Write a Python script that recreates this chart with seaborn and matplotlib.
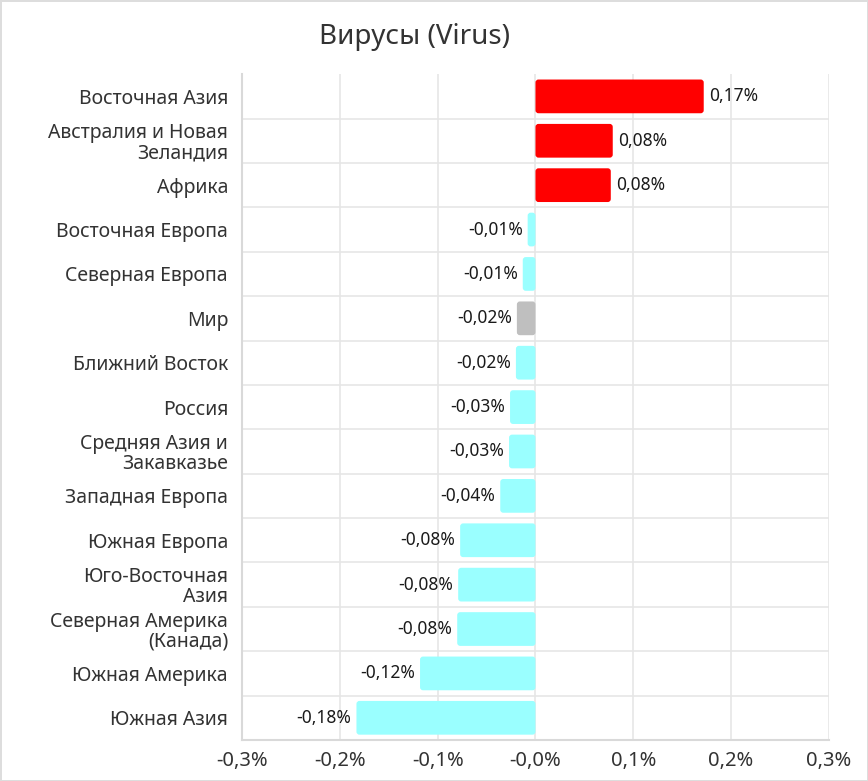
import numpy as np
import pandas as pd
import matplotlib
matplotlib.use("Agg")
import matplotlib.pyplot as plt
import seaborn as sns
from matplotlib.patches import FancyBboxPatch

# ==============================================================================
# DATOS
# ==============================================================================
regiones = [
    "Восточная Азия",
    "Австралия и Новая\nЗеландия",
    "Африка",
    "Восточная Европа",
    "Северная Европа",
    "Мир",
    "Ближний Восток",
    "Россия",
    "Средняя Азия и\nЗакавказье",
    "Западная Европа",
    "Южная Европа",
    "Юго-Восточная\nАзия",
    "Северная Америка\n(Канада)",
    "Южная Америка",
    "Южная Азия",
]
cambio = [0.172, 0.079, 0.077, -0.008, -0.013, -0.019, -0.020, -0.026,
          -0.027, -0.036, -0.077, -0.079, -0.080, -0.118, -0.183]
ticks_x = [-0.3, -0.2, -0.1, 0.0, 0.1, 0.2, 0.3]
etiquetas_x = ["-0,3%", "-0,2%", "-0,1%", "-0,0%", "0,1%", "0,2%", "0,3%"]
titulo = "Вирусы (Virus)"

ROJO = "#FF0000"
CIAN = "#9AFFFF"
GRIS = "#BFBFBF"


def color_de(region, valor):
    if region == "Мир":
        return GRIS
    return ROJO if valor > 0 else CIAN


def fmt_pct(v):
    return f"{v:.2f}".replace(".", ",") + "%"


df = pd.DataFrame({"region": regiones, "cambio": cambio})
paleta = {r: color_de(r, v) for r, v in zip(regiones, cambio)}

# ==============================================================================
# GRÁFICO
# ==============================================================================
sns.set_style("white")
plt.rcParams["font.family"] = ["Noto Sans", "DejaVu Sans"]

fig = plt.figure(figsize=(8.68, 7.81), dpi=100)
ax = fig.add_axes([0.2788, 0.0525, 0.6762, 0.8525])

sns.barplot(data=df, x="cambio", y="region", hue="region", palette=paleta,
            order=regiones, legend=False, width=0.76, ax=ax, saturation=1)

ax.set_xlim(-0.3, 0.3)
ax.set_ylim(len(regiones) - 0.5, -0.5)

# barras con esquinas redondeadas
px_x = 0.6 / (0.6762 * 868)
px_y = len(regiones) / (0.8525 * 781)
aspecto = px_y / px_x
for p in list(ax.patches):
    x0, y0 = p.get_x(), p.get_y()
    w, h = p.get_width(), p.get_height()
    if w < 0:
        x0, w = x0 + w, -w
    r = min(3 * px_x, w / 2)
    nuevo = FancyBboxPatch((x0, y0), w, h,
                           boxstyle=f"round,pad=0,rounding_size={r}",
                           mutation_aspect=aspecto,
                           facecolor=p.get_facecolor(), edgecolor="none",
                           zorder=3)
    p.remove()
    ax.add_patch(nuevo)

# etiquetas de valores
for i, v in enumerate(cambio):
    if v >= 0:
        ax.text(v + 5 * px_x, i, fmt_pct(v), ha="left", va="center",
                fontsize=12.5, color="#1a1a1a")
    else:
        ax.text(v - 5 * px_x, i, fmt_pct(v), ha="right", va="center",
                fontsize=12.5, color="#1a1a1a")

# rejilla
ax.set_xticks(ticks_x)
ax.set_xticklabels(etiquetas_x)
for yv in np.arange(0.5, len(regiones) - 1, 1.0):
    ax.axhline(yv, color="#E6E6E6", linewidth=1.2, zorder=0)
ax.grid(axis="x", color="#E6E6E6", linewidth=1.2, zorder=0)
ax.set_axisbelow(True)

for lado in ["top", "right"]:
    ax.spines[lado].set_visible(False)
for lado in ["left", "bottom"]:
    ax.spines[lado].set_color("#D9D9D9")
    ax.spines[lado].set_linewidth(1.5)

ax.tick_params(axis="y", length=7, width=1.2, color="#D9D9D9",
               labelsize=14, labelcolor="#333333", pad=3)
ax.tick_params(axis="x", length=5, width=1.2, color="#D9D9D9",
               labelsize=14.5, labelcolor="#333333", pad=3)
for lbl in ax.get_yticklabels():
    lbl.set_multialignment("right")
    lbl.set_linespacing(1.0)

ax.set_xlabel("")
ax.set_ylabel("")
fig.text(0.478, 0.953, titulo, ha="center", va="center", fontsize=20,
         color="#333333")

fig.patch.set_edgecolor("#DDDDDD")
fig.patch.set_linewidth(2)

plt.savefig("out.png", dpi=100)
